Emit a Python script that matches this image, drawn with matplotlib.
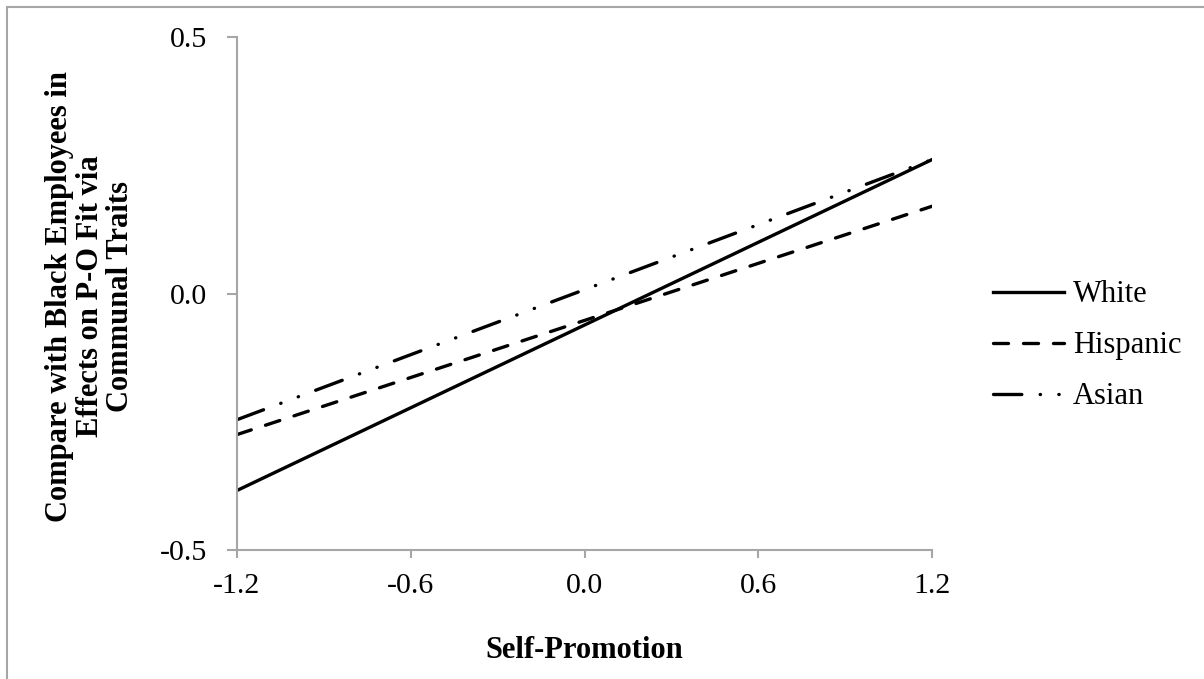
import matplotlib
matplotlib.use("Agg")
import matplotlib.pyplot as plt

# simple slopes: low / high self-promotion
x_vals = [-1.2, 1.2]
white = [-0.384, 0.261]
hispanic = [-0.275, 0.170]
asian = [-0.246, 0.261]

x_ticks = [-1.2, -0.6, 0.0, 0.6, 1.2]
x_tick_labels = ['-1.2', '-0.6', '0.0', '0.6', '1.2']
y_ticks = [-0.5, 0.0, 0.5]
y_tick_labels = ['-0.5', '0.0', '0.5']

plt.rcParams['font.family'] = ['Liberation Serif', 'DejaVu Serif']
grey = '#a6a6a6'

fig = plt.figure(figsize=(12.04, 6.79), dpi=100)
ax = fig.add_axes([237/1204, 1 - 550/679, (932-237)/1204, (550-37)/679])

lw = 2.4
ax.plot(x_vals, white, color='black', linestyle='-', linewidth=lw, label='White')
ax.plot(x_vals, hispanic, color='black', linestyle=(0, (4.5, 4.5)), linewidth=lw,
        dash_capstyle='round', label='Hispanic')
ax.plot(x_vals, asian, color='black', linestyle=(0, (8.5, 5.5, 0.1, 5.5, 0.1, 5.5)), linewidth=lw,
        dash_capstyle='round', label='Asian')

ax.set_xlim(-1.2, 1.2)
ax.set_ylim(-0.5, 0.5)
ax.set_xticks(x_ticks)
ax.set_xticklabels(x_tick_labels)
ax.set_yticks(y_ticks)
ax.set_yticklabels(y_tick_labels)
ax.tick_params(labelsize=21.5, color=grey, width=1.5, direction='out')
ax.tick_params(axis='y', length=7.2, pad=14)
ax.tick_params(axis='x', length=5.8, pad=11)

for side in ['top', 'right']:
    ax.spines[side].set_visible(False)
for side in ['left', 'bottom']:
    ax.spines[side].set_color(grey)
    ax.spines[side].set_linewidth(1.5)

fig.text(584/1204, 1 - 650/679, 'Self-Promotion', fontsize=22, fontweight='bold',
         ha='center', va='center')
fig.text(90/1204, 1 - 296/679, 'Compare with Black Employees in\nEffects on P-O Fit via\nCommunal Traits',
         fontsize=22, fontweight='bold', rotation=90, ha='center', va='center',
         multialignment='center', linespacing=1.08)

ax.legend(loc='center left', bbox_to_anchor=(981/1204, 1 - 346/679), bbox_transform=fig.transFigure,
          borderaxespad=0, frameon=False, fontsize=22, handlelength=2.3, handletextpad=0.3,
          labelspacing=0.72)

# outer border of the chart area (right/bottom edges fall outside the image)
fig.patches.append(plt.Rectangle((7/1204, -0.05), 1.1, 1 - 7/679 + 0.05, transform=fig.transFigure,
                                 fill=False, edgecolor=grey, linewidth=1.5))

fig.savefig('out.png', dpi=100)
